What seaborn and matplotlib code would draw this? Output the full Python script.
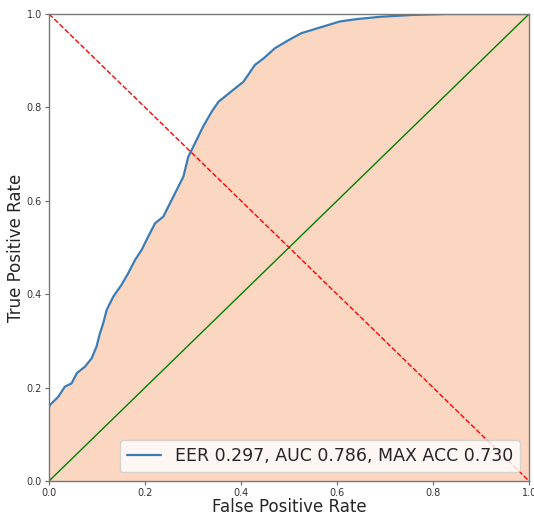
import numpy as np
import pandas as pd
import seaborn as sns
import matplotlib
matplotlib.use("Agg")
import matplotlib.pyplot as plt

# ROC curve points
fpr = [0.0, 0.002, 0.019, 0.033, 0.047, 0.058, 0.075, 0.089, 0.099, 0.106,
       0.113, 0.120, 0.134, 0.151, 0.165, 0.179, 0.193, 0.203, 0.221, 0.238,
       0.259, 0.280, 0.290, 0.304, 0.321, 0.339, 0.353, 0.377, 0.405, 0.429,
       0.447, 0.471, 0.499, 0.526, 0.558, 0.606, 0.641, 0.690, 0.758, 0.828,
       0.933, 1.0]
tpr = [0.158, 0.163, 0.180, 0.202, 0.209, 0.231, 0.245, 0.263, 0.288, 0.316,
       0.338, 0.366, 0.395, 0.420, 0.445, 0.473, 0.495, 0.516, 0.552, 0.566,
       0.609, 0.652, 0.694, 0.723, 0.759, 0.791, 0.812, 0.832, 0.855, 0.891,
       0.905, 0.927, 0.944, 0.959, 0.969, 0.984, 0.989, 0.994, 0.998, 1.0,
       1.0, 1.0]
label = "EER 0.297, AUC 0.786, MAX ACC 0.730"

df = pd.DataFrame({"fpr": fpr, "tpr": tpr})

sns.set_style("ticks")

fig = plt.figure(figsize=(5.34, 5.14), dpi=100)
ax = fig.add_axes([0.0918, 0.0642, 0.899, 0.9086])

ax.fill_between(df["fpr"], df["tpr"], color="#fbd7c2", linewidth=0)
sns.lineplot(x="fpr", y="tpr", data=df, estimator=None, sort=False,
             color="#3a7db5", linewidth=1.6, label=label, ax=ax)
ax.plot([0, 1], [0, 1], color="green", linewidth=1.0)
ax.plot([0, 1], [1, 0], "r--", linewidth=1.0)

ax.set_xlim(0, 1)
ax.set_ylim(0, 1)
ax.set_xticks([0, 0.2, 0.4, 0.6, 0.8, 1.0])
ax.set_yticks([0, 0.2, 0.4, 0.6, 0.8, 1.0])
ax.tick_params(labelsize=7, length=3, pad=2, color="#666666", labelcolor="#333333")
for s in ax.spines.values():
    s.set_color("#777777")
    s.set_linewidth(1.0)

ax.set_xlabel("False Positive Rate", fontsize=12, labelpad=0)
ax.set_ylabel("True Positive Rate", fontsize=12, labelpad=1)
ax.legend(loc="lower right", fontsize=12.5, framealpha=0.8)

fig.savefig("out.png", dpi=100)
